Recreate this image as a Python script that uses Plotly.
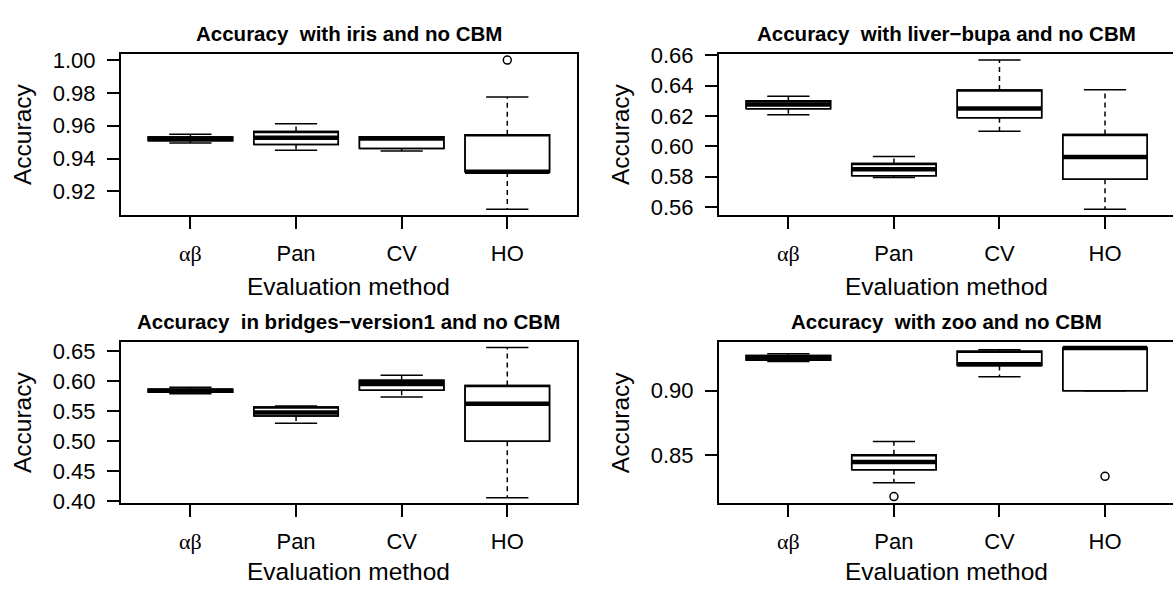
import plotly.graph_objects as go

W, H = 1173, 596

# ---------------- data ----------------
methods = ["αβ", "Pan", "CV", "HO"]
positions = [1, 2, 3, 4]

panel_titles = [
    "Accuracy  with iris and no CBM",
    "Accuracy  with liver\u2212bupa and no CBM",
    "Accuracy  in bridges\u2212version1 and no CBM",
    "Accuracy  with zoo and no CBM",
]

# iris
iris_lower  = [0.9495, 0.9451, 0.9446, 0.9092]
iris_q1     = [0.9509, 0.9486, 0.9462, 0.9318]
iris_median = [0.9520, 0.9527, 0.9522, 0.9320]
iris_q3     = [0.9532, 0.9565, 0.9533, 0.9545]
iris_upper  = [0.9548, 0.9612, 0.9533, 0.9775]
iris_out_x  = [4]
iris_out_y  = [1.0000]

# liver-bupa
bupa_lower  = [0.6208, 0.5795, 0.6099, 0.5584]
bupa_q1     = [0.6248, 0.5806, 0.6188, 0.5783]
bupa_median = [0.6276, 0.5848, 0.6249, 0.5929]
bupa_q3     = [0.6301, 0.5886, 0.6372, 0.6078]
bupa_upper  = [0.6331, 0.5933, 0.6569, 0.6374]
bupa_out_x  = []
bupa_out_y  = []

# bridges-version1
bridges_lower  = [0.5790, 0.5298, 0.5735, 0.4053]
bridges_q1     = [0.5815, 0.5417, 0.5850, 0.4994]
bridges_median = [0.5840, 0.5476, 0.5955, 0.5623]
bridges_q3     = [0.5865, 0.5568, 0.6015, 0.5929]
bridges_upper  = [0.5900, 0.5584, 0.6100, 0.6565]
bridges_out_x  = []
bridges_out_y  = []

# zoo
zoo_lower  = [0.9228, 0.8283, 0.9110, 0.9000]
zoo_q1     = [0.9238, 0.8383, 0.9197, 0.9000]
zoo_median = [0.9255, 0.8445, 0.9207, 0.9333]
zoo_q3     = [0.9275, 0.8500, 0.9308, 0.9333]
zoo_upper  = [0.9288, 0.8605, 0.9320, 0.9333]
zoo_out_x  = [2, 4]
zoo_out_y  = [0.8175, 0.8333]

y_ticks = [
    [0.92, 0.94, 0.96, 0.98, 1.00],
    [0.56, 0.58, 0.60, 0.62, 0.64, 0.66],
    [0.40, 0.45, 0.50, 0.55, 0.60, 0.65],
    [0.85, 0.90],
]

panels = [
    (iris_lower, iris_q1, iris_median, iris_q3, iris_upper, iris_out_x, iris_out_y),
    (bupa_lower, bupa_q1, bupa_median, bupa_q3, bupa_upper, bupa_out_x, bupa_out_y),
    (bridges_lower, bridges_q1, bridges_median, bridges_q3, bridges_upper, bridges_out_x, bridges_out_y),
    (zoo_lower, zoo_q1, zoo_median, zoo_q3, zoo_upper, zoo_out_x, zoo_out_y),
]

# ---------------- layout geometry (pixels) ----------------
rects = [  # x0, x1, y0(top), y1(bottom)
    (120.7, 577.0, 44.3, 211.7),
    (718.7, 1173.0, 44.3, 211.7),
    (120.7, 577.0, 343.7, 510.6),
    (718.7, 1173.0, 343.7, 510.8),
]
x_ranges = [[0.34, 4.66], [0.34, 4.644], [0.34, 4.66], [0.34, 4.644]]
y_ranges = [[0.9057, 1.0039], [0.55476, 0.66114], [0.3968, 0.6655], [0.8125, 0.9380]]

FONT = "Liberation Sans, Arial, Helvetica, sans-serif"
SERIF = "Liberation Serif, DejaVu Serif, serif"
LW = 1.5
BOXW = 0.8


def px_x(p):
    return p / W


def px_y(p):
    return 1 - p / H


fig = go.Figure()
annotations = []
layout_axes = {}

for k, (lo, q1, med, q3, up, ox, oy) in enumerate(panels):
    xa = "x" if k == 0 else f"x{k+1}"
    ya = "y" if k == 0 else f"y{k+1}"
    x0, x1, y0, y1 = rects[k]

    # box body (white fill)
    fig.add_trace(go.Box(
        x=positions, q1=q1, median=q3, q3=q3, lowerfence=q1, upperfence=q3,
        width=BOXW, fillcolor="white", line=dict(color="black", width=LW),
        whiskerwidth=0, boxpoints=False, hoverinfo="skip", showlegend=False,
        xaxis=xa, yaxis=ya,
    ))

    # dashed whiskers
    wx, wy = [], []
    for p, a, b, c, d in zip(positions, lo, q1, q3, up):
        wx += [p, p, None, p, p, None]
        wy += [c, d, None, b, a, None]
    fig.add_trace(go.Scatter(x=wx, y=wy, mode="lines",
                             line=dict(color="black", width=LW, dash="5px,4px"),
                             hoverinfo="skip", showlegend=False, xaxis=xa, yaxis=ya))

    # staples
    sx, sy = [], []
    for p, a, d in zip(positions, lo, up):
        sx += [p - BOXW / 4, p + BOXW / 4, None, p - BOXW / 4, p + BOXW / 4, None]
        sy += [a, a, None, d, d, None]
    fig.add_trace(go.Scatter(x=sx, y=sy, mode="lines",
                             line=dict(color="black", width=LW),
                             hoverinfo="skip", showlegend=False, xaxis=xa, yaxis=ya))

    # box outline (on top of whiskers)
    bx, by = [], []
    for p, b, c in zip(positions, q1, q3):
        bx += [p - BOXW / 2, p + BOXW / 2, p + BOXW / 2, p - BOXW / 2, p - BOXW / 2, None]
        by += [b, b, c, c, b, None]
    fig.add_trace(go.Scatter(x=bx, y=by, mode="lines",
                             line=dict(color="black", width=LW),
                             hoverinfo="skip", showlegend=False, xaxis=xa, yaxis=ya))

    # thick medians
    mx, my = [], []
    for p, m in zip(positions, med):
        mx += [p - BOXW / 2, p + BOXW / 2, None]
        my += [m, m, None]
    fig.add_trace(go.Scatter(x=mx, y=my, mode="lines",
                             line=dict(color="black", width=4.5),
                             hoverinfo="skip", showlegend=False, xaxis=xa, yaxis=ya))

    # outliers
    if ox:
        fig.add_trace(go.Scatter(x=ox, y=oy, mode="markers",
                                 marker=dict(symbol="circle-open", size=8, color="black",
                                             line=dict(width=LW, color="black")),
                                 hoverinfo="skip", showlegend=False, xaxis=xa, yaxis=ya))

    right_panel = k in (1, 3)
    xkey = "xaxis" if k == 0 else f"xaxis{k+1}"
    ykey = "yaxis" if k == 0 else f"yaxis{k+1}"
    layout_axes[xkey] = dict(
        domain=[px_x(x0), px_x(x1)], range=x_ranges[k], anchor=ya,
        tickvals=positions,
        ticktext=[f'<span style="font-family:{SERIF}">{methods[0]}</span>'] + methods[1:],
        ticks="outside", ticklen=12, tickwidth=LW, tickcolor="black",
        showline=True, linecolor="black", linewidth=LW, mirror=True,
        showgrid=False, zeroline=False,
        tickfont=dict(family=FONT, size=22, color="black"),
        ticklabelstandoff=6,
    )
    layout_axes[ykey] = dict(
        domain=[px_y(y1), px_y(y0)], range=y_ranges[k], anchor=xa,
        tickvals=y_ticks[k], ticktext=[f"{v:.2f}" for v in y_ticks[k]],
        ticks="outside", ticklen=12, tickwidth=LW, tickcolor="black",
        showline=True, linecolor="black", linewidth=LW, mirror=not right_panel,
        showgrid=False, zeroline=False,
        tickfont=dict(family=FONT, size=22, color="black"),
        ticklabelstandoff=7,
    )

    cx = (x0 + (x0 + 456.3)) / 2
    top_off = 0 if k < 2 else 299.4
    annotations.append(dict(text=f"<b>{panel_titles[k]}</b>", x=px_x(cx), y=px_y(23 + top_off),
                            xref="paper", yref="paper", showarrow=False,
                            xanchor="center", yanchor="middle",
                            font=dict(family=FONT, size=20.5, color="black")))
    annotations.append(dict(text="Evaluation method", x=px_x(cx), y=px_y(286 + top_off - (3 if k >= 2 else 0)),
                            xref="paper", yref="paper", showarrow=False,
                            xanchor="center", yanchor="middle",
                            font=dict(family=FONT, size=24.5, color="black")))
    annotations.append(dict(text="Accuracy", x=px_x(x0 - 98), y=px_y((y0 + y1) / 2),
                            xref="paper", yref="paper", showarrow=False, textangle=-90,
                            xanchor="center", yanchor="middle",
                            font=dict(family=FONT, size=24.5, color="black")))

fig.update_layout(
    width=W, height=H, autosize=False,
    margin=dict(l=0, r=0, t=0, b=0, pad=0),
    paper_bgcolor="white", plot_bgcolor="white",
    annotations=annotations,
    **layout_axes,
)

fig.write_html(
    "out.html",
    config={"displayModeBar": False},
    post_script="document.body.style.margin='0';document.body.style.padding='0';"
                "document.body.style.overflow='hidden';",
)
